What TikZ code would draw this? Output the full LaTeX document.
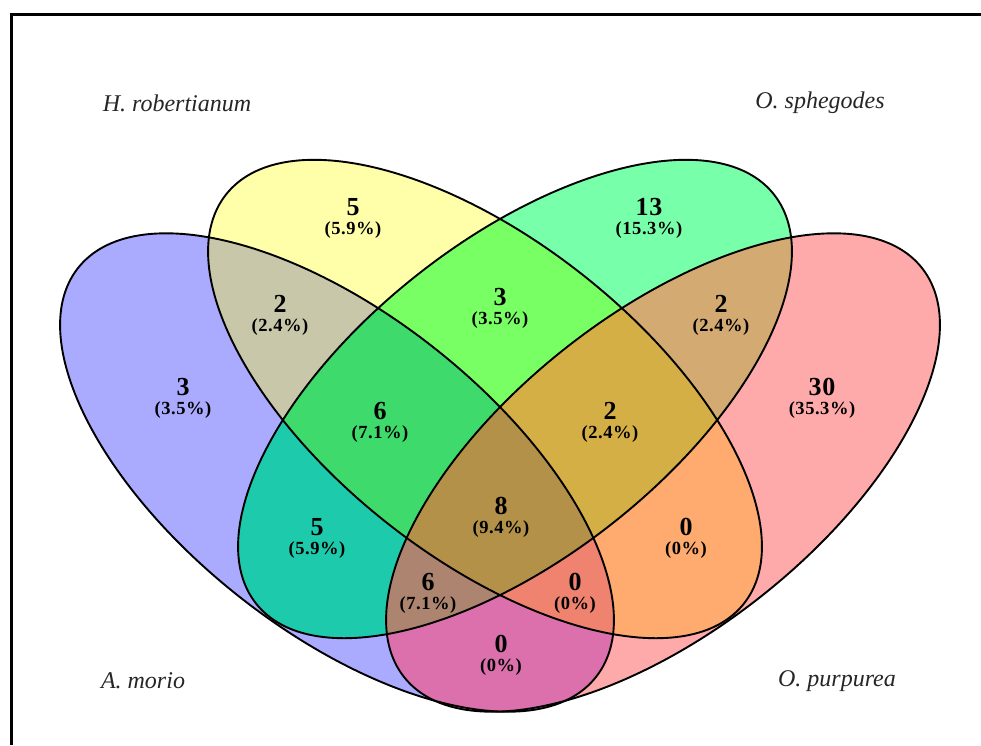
\documentclass[tikz,border=0pt]{standalone}
\usepackage{fontspec}
\setmainfont{Liberation Serif}
\newfontfamily\pctfamily[LetterSpace=3]{Liberation Serif}
\begin{document}
\begin{tikzpicture}[x=1pt,y=-1pt]
\definecolor{cA}{RGB}{170,170,255}
\definecolor{cB}{RGB}{255,255,170}
\definecolor{cC}{RGB}{120,255,170}
\definecolor{cD}{RGB}{255,170,170}
\definecolor{cAB}{RGB}{200,199,170}
\definecolor{cAC}{RGB}{30,202,172}
\definecolor{cAD}{RGB}{220,112,172}
\definecolor{cBC}{RGB}{120,255,100}
\definecolor{cBD}{RGB}{255,170,110}
\definecolor{cCD}{RGB}{212,170,115}
\definecolor{cABC}{RGB}{62,218,108}
\definecolor{cABD}{RGB}{240,130,112}
\definecolor{cACD}{RGB}{172,132,112}
\definecolor{cBCD}{RGB}{212,175,70}
\definecolor{cABCD}{RGB}{180,145,72}
\tikzset{
  eA/.style={rotate around={-38.3:(337,472.5)}},
  eB/.style={rotate around={-38.3:(485,399)}},
  eC/.style={rotate around={38.3:(515,399)}},
  eD/.style={rotate around={38.3:(663,472.5)}},
  count/.style={font=\pctfamily\bfseries\fontsize{18.5}{19}\selectfont, align=center, inner sep=0pt},
  species/.style={font=\itshape\fontsize{24}{24}\selectfont, text=black!85, inner sep=0pt},
  outline/.style={draw=black, line width=1.9pt}
}
\newcommand\cnt[2]{{\fontsize{26}{19}\selectfont #1}\\(#2\%)}
\def\ellA{[eA] (337,472.5) ellipse [x radius=330pt, y radius=158pt]}
\def\ellB{[eB] (485,399) ellipse [x radius=330pt, y radius=158pt]}
\def\ellC{[eC] (515,399) ellipse [x radius=330pt, y radius=158pt]}
\def\ellD{[eD] (663,472.5) ellipse [x radius=330pt, y radius=158pt]}
\useasboundingbox (0,0) rectangle (981,745);
\fill[white] (0,0) rectangle (981,745);
% frame
\draw[line width=2.2pt] (11.5,745) -- (11.5,14.5) -- (981,14.5);
% single sets
\fill[cA] \ellA;
\fill[cB] \ellB;
\fill[cC] \ellC;
\fill[cD] \ellD;
% pairs
\begin{scope}\clip \ellA; \fill[cAB] \ellB; \end{scope}
\begin{scope}\clip \ellA; \fill[cAC] \ellC; \end{scope}
\begin{scope}\clip \ellA; \fill[cAD] \ellD; \end{scope}
\begin{scope}\clip \ellB; \fill[cBC] \ellC; \end{scope}
\begin{scope}\clip \ellB; \fill[cBD] \ellD; \end{scope}
\begin{scope}\clip \ellC; \fill[cCD] \ellD; \end{scope}
% triples
\begin{scope}\clip \ellA; \clip \ellB; \fill[cABC] \ellC; \end{scope}
\begin{scope}\clip \ellA; \clip \ellB; \fill[cABD] \ellD; \end{scope}
\begin{scope}\clip \ellA; \clip \ellC; \fill[cACD] \ellD; \end{scope}
\begin{scope}\clip \ellB; \clip \ellC; \fill[cBCD] \ellD; \end{scope}
% all four
\begin{scope}\clip \ellA; \clip \ellB; \clip \ellC; \fill[cABCD] \ellD; \end{scope}
% outlines
\path[outline] \ellA;
\path[outline] \ellB;
\path[outline] \ellC;
\path[outline] \ellD;
% labels
\node[species] (lH) at (177,103) {H. robertianum};
\node[species] (lO) at (820,103) {O. sphegodes};
\node[species] (lA) at (143,681) {A. morio};
\node[species] (lP) at (837,681) {O. purpurea};
% counts
\node[count] (rA) at (183,398) {\cnt{3}{3.5}};
\node[count] (rB) at (353,218) {\cnt{5}{5.9}};
\node[count] (rC) at (649,218) {\cnt{13}{15.3}};
\node[count] (rD) at (822,398) {\cnt{30}{35.3}};
\node[count] (rAB) at (280,315) {\cnt{2}{2.4}};
\node[count] (rBC) at (500,308) {\cnt{3}{3.5}};
\node[count] (rCD) at (721,315) {\cnt{2}{2.4}};
\node[count] (rABC) at (380,422) {\cnt{6}{7.1}};
\node[count] (rBCD) at (610,422) {\cnt{2}{2.4}};
\node[count] (rAC) at (317,538) {\cnt{5}{5.9}};
\node[count] (rBD) at (686,538) {\cnt{0}{0}};
\node[count] (rABCD) at (501,517) {\cnt{8}{9.4}};
\node[count] (rACD) at (428,593) {\cnt{6}{7.1}};
\node[count] (rABD) at (575,593) {\cnt{0}{0}};
\node[count] (rAD) at (501,655) {\cnt{0}{0}};
\end{tikzpicture}
\end{document}
